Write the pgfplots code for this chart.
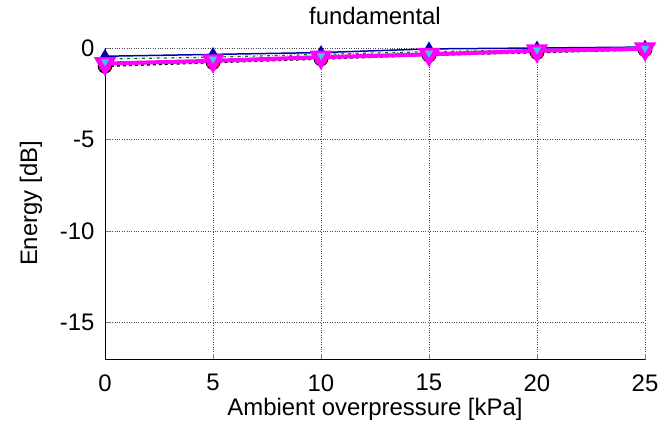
\documentclass[border=0pt]{standalone}
\usepackage{fontspec}
\setmainfont{Liberation Sans}
\usepackage{pgfplots}
\pgfplotsset{compat=1.18}
\definecolor{mag}{RGB}{255,0,255}
\definecolor{cyn}{RGB}{60,200,230}
\begin{document}
\begin{tikzpicture}[x=1bp,y=1bp]
\begin{axis}[
  name=ax,
  scale only axis,
  width=540bp, height=311bp,
  xmin=0, xmax=25, ymin=-17, ymax=0,
  xtick={0,5,10,15,20,25},
  ytick={-15,-10,-5,0},
  axis lines*=left,
  axis line style={black, line width=0.8pt},
  tick align=inside,
  major tick length=5bp,
  grid=major,
  grid style={black!70, dotted, line width=0.7pt},
  clip=false,
  /pgf/number format/assume math mode=true,
  tick label style={font=\fontsize{24}{28}\selectfont},
  label style={font=\fontsize{24}{28}\selectfont},
  title style={font=\fontsize{24}{28}\selectfont, yshift=14bp},
  title={fundamental},
  xlabel={Ambient overpressure [kPa]},
  ylabel={Energy [dB]},
  xticklabel style={yshift=-12bp},
  yticklabel style={xshift=-7bp},
  ylabel style={yshift=11bp},
]
\addplot[black, dashed, line width=1.5pt, mark=*, mark size=6.5bp, mark options={solid}]
  coordinates {(0,-1.0)(5,-0.8)(10,-0.6)(15,-0.4)(20,-0.25)(25,-0.1)};
\addplot[red, line width=1.2pt, mark=square*, mark size=5bp]
  coordinates {(0,-0.9)(5,-0.75)(10,-0.55)(15,-0.35)(20,-0.2)(25,-0.05)};
\addplot[blue!70!black, line width=1.5pt, mark=triangle*, mark size=6bp]
  coordinates {(0,-0.45)(5,-0.35)(10,-0.25)(15,-0.05)(20,0.0)(25,0.05)};
\addplot[green!50!black, dashdotted, line width=1.2pt]
  coordinates {(0,-0.6)(5,-0.5)(10,-0.35)(15,-0.2)(20,-0.1)(25,0.0)};
\addplot[mag, line width=4pt, mark=triangle*, mark size=9bp, mark options={rotate=180}]
  coordinates {(0,-0.85)(5,-0.7)(10,-0.5)(15,-0.35)(20,-0.15)(25,-0.05)};
\addplot[cyn, line width=0.8pt, only marks, mark=triangle*, mark size=4bp, mark options={rotate=180}]
  coordinates {(0,-0.75)(5,-0.6)(10,-0.42)(15,-0.28)(20,-0.1)(25,-0.02)};
\end{axis}
\pgfresetboundingbox
\path ([shift={(-105bp,-75bp)}]ax.south west) rectangle ([shift={(19bp,48bp)}]ax.north east);
\end{tikzpicture}
\end{document}
